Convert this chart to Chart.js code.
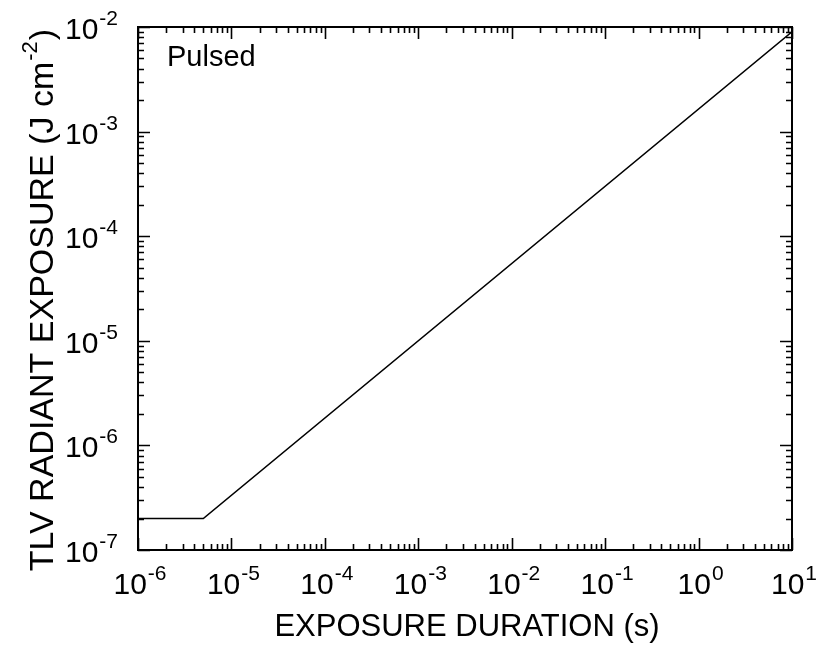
<!DOCTYPE html>
<html>
<head>
<meta charset="utf-8">
<script src="https://cdn.jsdelivr.net/npm/chart.js@4"></script>
<style>
  html, body { margin: 0; padding: 0; background: #fff; }
  #wrap { width: 817px; height: 650px; }
</style>
</head>
<body>
<div id="wrap"><canvas id="tlvChart"></canvas></div>
<script>
// data
const exposureDuration = [1e-6, 5e-6, 10];       // s
const tlvExposure = [2e-7, 2e-7, 9e-3];          // J cm^-2
const xTickExps = [-6, -5, -4, -3, -2, -1, 0, 1];
const yTickExps = [-7, -6, -5, -4, -3, -2];
const xTitle = 'EXPOSURE DURATION (s)';
const yTitle = 'TLV RADIANT EXPOSURE (J cm';
const yTitleSup = '-2';
const yTitleEnd = ')';
const noteText = 'Pulsed';

const FONT = '"Liberation Sans", Arial, Helvetica, sans-serif';

// draws the frame, inward ticks on all four sides and the 10^n labels
const logFramePlugin = {
  id: 'logFrame',
  afterDraw(chart) {
    const { ctx, chartArea: a, scales } = chart;
    const xs = scales.x, ys = scales.y;
    ctx.save();
    ctx.strokeStyle = '#000';
    ctx.lineWidth = 2;
    ctx.strokeRect(a.left, a.top, a.right - a.left, a.bottom - a.top);

    ctx.lineWidth = 1.6;
    ctx.beginPath();
    const tick = (scale, v, len, horizontal) => {
      const p = Math.round(scale.getPixelForValue(v)) + 0.5;
      if (horizontal) {
        ctx.moveTo(p, a.bottom); ctx.lineTo(p, a.bottom - len);
        ctx.moveTo(p, a.top); ctx.lineTo(p, a.top + len);
      } else {
        ctx.moveTo(a.left, p); ctx.lineTo(a.left + len, p);
        ctx.moveTo(a.right, p); ctx.lineTo(a.right - len, p);
      }
    };
    const doTicks = (scale, exps, horizontal) => {
      exps.forEach((e, i) => {
        tick(scale, Math.pow(10, e), 12, horizontal);
        if (i < exps.length - 1) {
          for (let m = 2; m <= 9; m++) tick(scale, m * Math.pow(10, e), 6, horizontal);
        }
      });
    };
    doTicks(xs, xTickExps, true);
    doTicks(ys, yTickExps, false);
    ctx.stroke();

    ctx.fillStyle = '#000';
    ctx.textBaseline = 'alphabetic';
    const big = '30px ' + FONT, small = '21px ' + FONT;
    const measure = (e) => {
      ctx.font = big; const w1 = ctx.measureText('10').width;
      ctx.font = small; const w2 = ctx.measureText(String(e)).width;
      return [w1, w2];
    };
    const label = (x, base, e) => {
      const [w1] = measure(e);
      ctx.textAlign = 'left';
      ctx.font = big; ctx.fillText('10', x, base);
      ctx.font = small; ctx.fillText(String(e), x + w1 + 1, base - 14);
    };
    xTickExps.forEach(e => {
      const px = xs.getPixelForValue(Math.pow(10, e));
      const [w1, w2] = measure(e);
      label(px - (w1 + w2 + 1) / 2 + 2, a.bottom + 44, e);
    });
    yTickExps.forEach(e => {
      const py = ys.getPixelForValue(Math.pow(10, e));
      const [w1, w2] = measure(e);
      label(a.left - 20 - (w1 + w2 + 1), py + 12, e);
    });

    // axis titles
    ctx.font = '31px ' + FONT;
    ctx.textAlign = 'center';
    ctx.fillText(xTitle, (a.left + a.right) / 2 + 2, 636);

    ctx.save();
    ctx.translate(53, 300);
    ctx.rotate(-Math.PI / 2);
    const tf = '34px ' + FONT, sf = '22px ' + FONT;
    ctx.font = tf;
    const w1 = ctx.measureText(yTitle).width;
    const w3 = ctx.measureText(yTitleEnd).width;
    ctx.font = sf;
    const w2 = ctx.measureText(yTitleSup).width;
    let x0 = -(w1 + w2 + w3 + 2) / 2;
    ctx.textAlign = 'left';
    ctx.font = tf;
    ctx.fillText(yTitle, x0, 0);
    ctx.font = sf;
    ctx.fillText(yTitleSup, x0 + w1 + 1, -16);
    ctx.font = tf;
    ctx.fillText(yTitleEnd, x0 + w1 + w2 + 2, 0);
    ctx.restore();

    // annotation
    ctx.font = '29px ' + FONT;
    ctx.textAlign = 'left';
    ctx.fillText(noteText, a.left + 29, a.top + 39);
    ctx.restore();
  }
};

new Chart(document.getElementById('tlvChart'), {
  type: 'line',
  data: {
    datasets: [{
      label: 'TLV',
      data: exposureDuration.map((t, i) => ({ x: t, y: tlvExposure[i] })),
      borderColor: '#000',
      borderWidth: 1.6,
      pointRadius: 0,
      tension: 0,
      fill: false
    }]
  },
  options: {
    responsive: true,
    maintainAspectRatio: false,
    animation: false,
    layout: { padding: { left: 138, right: 25, top: 27, bottom: 100 } },
    plugins: { legend: { display: false }, tooltip: { enabled: false } },
    scales: {
      x: {
        type: 'logarithmic',
        min: 1e-6, max: 10,
        ticks: { display: false },
        grid: { display: false, drawTicks: false },
        border: { display: false }
      },
      y: {
        type: 'logarithmic',
        min: 1e-7, max: 1e-2,
        ticks: { display: false },
        grid: { display: false, drawTicks: false },
        border: { display: false }
      }
    }
  },
  plugins: [logFramePlugin]
});
</script>
</body>
</html>
